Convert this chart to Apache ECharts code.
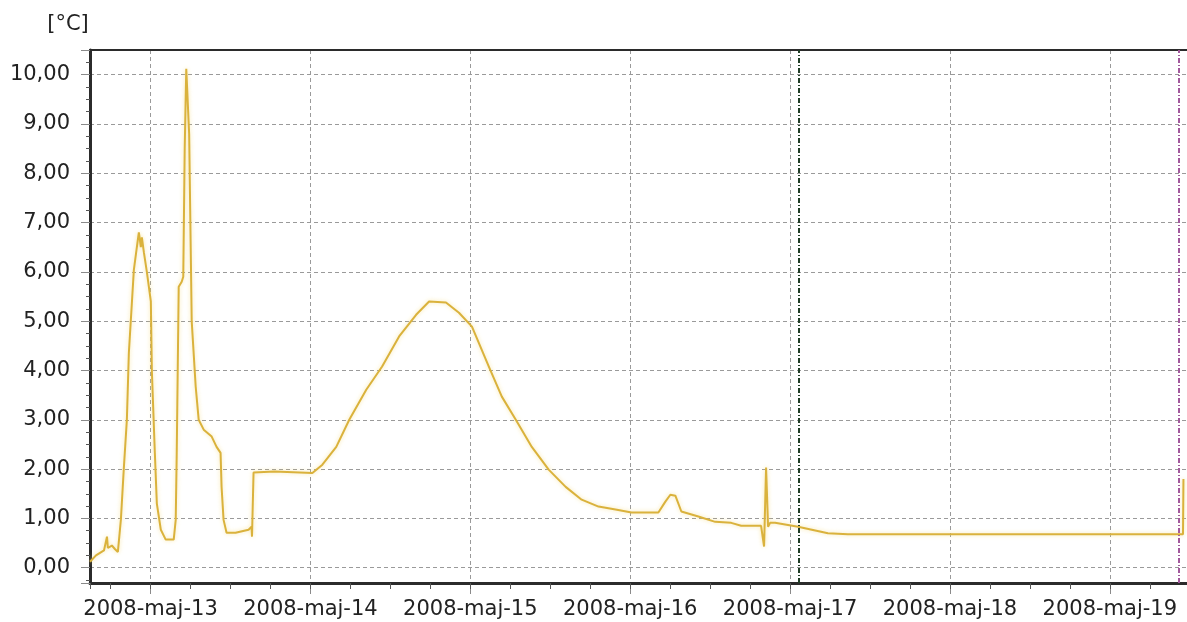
<!DOCTYPE html>
<html>
<head>
<meta charset="utf-8">
<script src="https://cdn.jsdelivr.net/npm/echarts@6/dist/echarts.min.js"></script>
<style>
html, body { margin: 0; padding: 0; background: #fff; }
#chart { width: 1187px; height: 622px; }
</style>
</head>
<body>
<div id="chart"></div>
<script>
// temperature log
const times = [
  '2008-05-12 14:55', '2008-05-12 15:13', '2008-05-12 15:49', '2008-05-12 16:25', '2008-05-12 17:01',
  '2008-05-12 17:28', '2008-05-12 17:36', '2008-05-12 18:12', '2008-05-12 18:39', '2008-05-12 19:06',
  '2008-05-12 19:24', '2008-05-12 19:33', '2008-05-12 20:00', '2008-05-12 20:27', '2008-05-12 20:45',
  '2008-05-12 21:03', '2008-05-12 21:30', '2008-05-12 21:57', '2008-05-12 22:15', '2008-05-12 22:33',
  '2008-05-12 22:42', '2008-05-12 23:00', '2008-05-12 23:27', '2008-05-13 00:03', '2008-05-13 00:12',
  '2008-05-13 00:39', '2008-05-13 00:57', '2008-05-13 01:33', '2008-05-13 02:17', '2008-05-13 03:29',
  '2008-05-13 03:47', '2008-05-13 03:56', '2008-05-13 04:14', '2008-05-13 04:41', '2008-05-13 04:55',
  '2008-05-13 05:08', '2008-05-13 05:22', '2008-05-13 05:35', '2008-05-13 05:48', '2008-05-13 06:02',
  '2008-05-13 06:11', '2008-05-13 06:47', '2008-05-13 07:14', '2008-05-13 07:59', '2008-05-13 09:11',
  '2008-05-13 09:55', '2008-05-13 10:31', '2008-05-13 10:40', '2008-05-13 10:58', '2008-05-13 11:25',
  '2008-05-13 12:46', '2008-05-13 14:43', '2008-05-13 15:10', '2008-05-13 15:14', '2008-05-13 15:28',
  '2008-05-13 15:46', '2008-05-13 18:36', '2008-05-13 18:54', '2008-05-14 00:18', '2008-05-14 01:48',
  '2008-05-14 03:53', '2008-05-14 05:50', '2008-05-14 08:23', '2008-05-14 10:46', '2008-05-14 13:19',
  '2008-05-14 15:52', '2008-05-14 17:49', '2008-05-14 20:21', '2008-05-14 22:18', '2008-05-15 00:15',
  '2008-05-15 02:47', '2008-05-15 04:44', '2008-05-15 06:50', '2008-05-15 09:14', '2008-05-15 11:46',
  '2008-05-15 14:19', '2008-05-15 16:43', '2008-05-15 19:15', '2008-05-15 21:48', '2008-05-16 00:12',
  '2008-05-16 04:14', '2008-05-16 05:17', '2008-05-16 06:02', '2008-05-16 06:47', '2008-05-16 07:41',
  '2008-05-16 10:14', '2008-05-16 12:46', '2008-05-16 15:10', '2008-05-16 16:40', '2008-05-16 19:39',
  '2008-05-16 20:06', '2008-05-16 20:24', '2008-05-16 20:42', '2008-05-16 21:00', '2008-05-16 21:45',
  '2008-05-17 01:12', '2008-05-17 05:41', '2008-05-17 08:41', '2008-05-19 10:59', '2008-05-19 11:03'
];
const temps = [
  0.12, 0.15, 0.25, 0.30, 0.35,
  0.63, 0.40, 0.45, 0.38, 0.32,
  0.35, 0.97, 2.03, 3.00, 4.36,
  5.03, 6.04, 6.50, 6.80, 6.50,
  6.70, 6.40, 6.00, 5.40, 4.00,
  2.33, 1.30, 0.77, 0.57, 0.57,
  0.97, 2.30, 5.70, 5.80, 5.90,
  8.50, 10.12, 10.10, 8.80, 6.50,
  5.00, 3.67, 3.00, 2.80, 2.66,
  2.45, 2.33, 1.64, 0.97, 0.71,
  0.71, 0.77, 0.83, 0.63, 1.93,
  1.95, 1.95, 1.92, 1.92, 2.09,
  2.45, 3.00, 3.61, 4.08, 4.69,
  5.13, 5.40, 5.38, 5.17, 4.89,
  4.08, 3.47, 3.00, 2.45, 1.99,
  1.64, 1.38, 1.24, 1.18, 1.12,
  1.12, 1.34, 1.48, 1.46, 1.14,
  1.04, 0.93, 0.91, 0.85, 0.85,
  0.43, 2.03, 0.83, 0.91, 0.91,
  0.83, 0.70, 0.68, 0.68, 1.80
];
// vertical marker lines
const markerTimes = ['2008-05-17 01:16', '2008-05-19 10:22'];
const markerColors = ['#1f3d26', '#a2589c'];
const monthNames = ['jan', 'feb', 'mar', 'apr', 'maj', 'jun', 'jul', 'aug', 'sep', 'okt', 'nov', 'dec'];

// the plot runs a little past the right edge of the page, like the original
const xMin = '2008-05-12 14:55';
const xMax = '2008-05-19 11:35';
const font = 'DejaVu Sans';
const gridLine = { show: true, showMinLine: false, showMaxLine: false, lineStyle: { color: '#9a9a9a', type: [4, 3], width: 1 } };

const chart = echarts.init(document.getElementById('chart'));
const pad = n => (n < 10 ? '0' : '') + n;

chart.setOption({
  animation: false,
  backgroundColor: '#fff',
  grid: { left: 90, right: -3, top: 50, bottom: 39 },
  xAxis: [
    {
      type: 'time',
      min: xMin,
      max: xMax,
      minInterval: 86400000,
      maxInterval: 86400000,
      axisLine: { onZero: false, lineStyle: { color: '#2b2b2b', width: 3 } },
      axisTick: { length: 11, lineStyle: { color: '#8a8a8a' } },
      axisLabel: {
        showMinLabel: false,
        showMaxLabel: false,
        margin: 16,
        fontSize: 21,
        fontFamily: font,
        color: '#222',
        formatter: v => {
          const d = new Date(v);
          return d.getFullYear() + '-' + monthNames[d.getMonth()] + '-' + pad(d.getDate());
        }
      },
      splitLine: gridLine
    },
    {
      // 6 hour small ticks
      type: 'time',
      min: xMin,
      max: xMax,
      minInterval: 6.5 * 3600000,
      maxInterval: 6.5 * 3600000,
      position: 'bottom',
      axisLine: { show: false, onZero: false },
      axisTick: { length: 6, lineStyle: { color: '#555' } },
      axisLabel: { show: false },
      splitLine: { show: false }
    },
    {
      // top frame
      type: 'time',
      min: xMin,
      max: xMax,
      position: 'top',
      axisLine: { onZero: false, lineStyle: { color: '#2b2b2b', width: 2 } },
      axisTick: { show: false },
      axisLabel: { show: false },
      splitLine: { show: false }
    }
  ],
  yAxis: {
    type: 'value',
    min: -0.31,
    max: 10.5,
    splitNumber: 10,
    name: '[°C]',
    nameLocation: 'end',
    nameGap: 15,
    nameTextStyle: { fontSize: 21, fontFamily: font, color: '#222', align: 'center', padding: [0, 44, 0, 0] },
    axisLine: { show: true, lineStyle: { color: '#2b2b2b', width: 3 } },
    axisTick: { show: true, length: 9, lineStyle: { color: '#8a8a8a' } },
    minorTick: { show: true, splitNumber: 4, length: 4, lineStyle: { color: '#555' } },
    axisLabel: {
      margin: 20,
      fontSize: 21,
      fontFamily: font,
      color: '#222',
      formatter: v => (Math.abs(v - Math.round(v)) < 1e-6 ? Math.round(v).toFixed(2).replace('.', ',') : '')
    },
    splitLine: gridLine
  },
  series: [
    {
      type: 'line',
      xAxisIndex: 0,
      data: times.map((t, i) => [t, temps[i]]),
      showSymbol: false,
      lineStyle: { color: '#dab23c', width: 2, shadowColor: 'rgba(245,215,110,0.6)', shadowBlur: 4 },
      markLine: {
        silent: true,
        symbol: 'none',
        label: { show: false },
        data: markerTimes.map((t, i) => ({
          xAxis: t,
          lineStyle: { color: markerColors[i], width: 2, type: [5, 2, 1, 2] }
        }))
      }
    }
  ]
});
</script>
</body>
</html>
